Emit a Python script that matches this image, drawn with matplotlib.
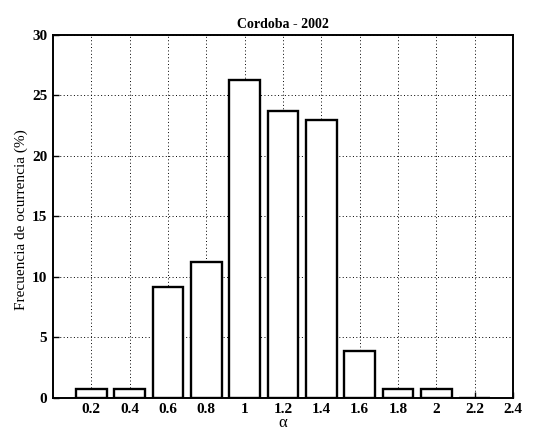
import matplotlib
matplotlib.use("Agg")
import matplotlib.pyplot as plt

# histogram of alpha values, Cordoba 2002
alpha = [0.2, 0.4, 0.6, 0.8, 1.0, 1.2, 1.4, 1.6, 1.8, 2.0, 2.2]
freq = [0.75, 0.75, 9.15, 11.25, 26.3, 23.7, 23.0, 3.9, 0.75, 0.75, 0.0]
xticks = [0.2, 0.4, 0.6, 0.8, 1.0, 1.2, 1.4, 1.6, 1.8, 2.0, 2.2, 2.4]
xticklabels = ["0.2", "0.4", "0.6", "0.8", "1", "1.2", "1.4", "1.6", "1.8", "2", "2.2", "2.4"]
yticks = [0, 5, 10, 15, 20, 25, 30]

plt.rcParams['font.family'] = ['Liberation Serif', 'DejaVu Serif']

fig = plt.figure(figsize=(5.34, 4.32), dpi=100)
ax = fig.add_axes([0.099, 0.079, 0.862, 0.84])

ax.bar(alpha, freq, width=0.16, color='white', edgecolor='black', linewidth=1.7, zorder=3)

ax.set_xlim(0, 2.4)
ax.set_ylim(0, 30)
ax.set_xticks(xticks)
ax.set_xticklabels(xticklabels)
ax.set_yticks(yticks)
ax.tick_params(direction='in', length=4, width=1, labelsize=11, pad=4)
for lab in ax.get_xticklabels() + ax.get_yticklabels():
    lab.set_fontweight('bold')

ax.grid(True, color='black', linestyle=(0, (1, 2.5)), linewidth=0.7, zorder=0)
for sp in ax.spines.values():
    sp.set_linewidth(1.4)
    sp.set_zorder(4)

ax.set_title("Cordoba - 2002", fontsize=10, fontweight='bold', pad=5)
ax.set_xlabel("α", fontsize=12, labelpad=-1)
ax.set_ylabel("Frecuencia de ocurrencia (%)", fontsize=11)
ax.yaxis.set_label_coords(-0.054, 0.49)

fig.savefig("out.png", dpi=100)
